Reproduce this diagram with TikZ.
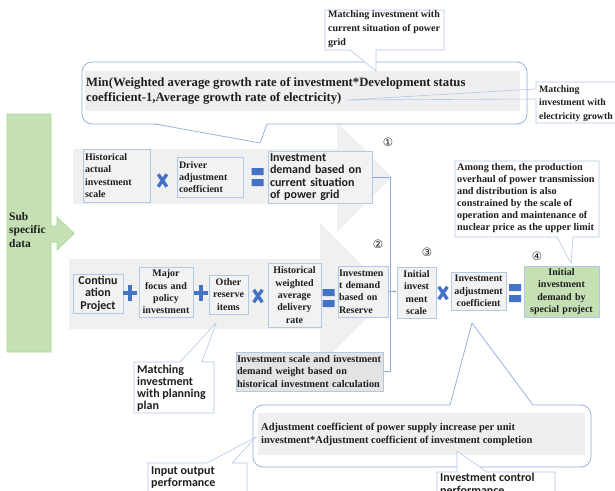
\documentclass[tikz,border=0pt]{standalone}
\usepackage{fontspec}
\setmainfont{Liberation Serif}
\newfontfamily\calfont{Carlito}
\newfontfamily\dvfont{DejaVu Sans}
\usetikzlibrary{arrows.meta}
\hyphenpenalty=10000
\exhyphenpenalty=10000
\definecolor{bgray}{HTML}{F2F2F2}
\definecolor{dgray}{HTML}{E3E3E3}
\definecolor{igray}{HTML}{EFEFEF}
\definecolor{bline}{HTML}{B4C7E7}
\definecolor{cline}{HTML}{8FAADC}
\definecolor{symblue}{HTML}{4472C4}
\definecolor{gfill}{HTML}{C5E0B4}
\definecolor{gline}{HTML}{A9D89A}
\definecolor{txt}{HTML}{1E1E1E}
\definecolor{agray}{HTML}{F0F0F0}
\begin{document}
\begin{tikzpicture}[x=1pt,y=-1pt,
  bx/.style={draw=bline, fill=bgray, line width=0.6pt, inner xsep=2pt, inner ysep=0pt, text=txt},
  sfont/.style={font=\bfseries\fontsize{10}{12.3}\selectfont},
  cfont/.style={font=\calfont\bfseries\fontsize{12}{12.3}\selectfont},
  callout/.style={draw=bline, fill=white, line width=0.6pt},
  rcall/.style={draw=cline, fill=white, line width=0.7pt},
  conn/.style={draw=cline, line width=0.6pt},
  num/.style={font=\dvfont\fontsize{11.5}{11.5}\selectfont, text=txt, inner sep=0pt},
  timessym/.pic={\draw[symblue, line width=3.4pt] (-4.3,-6.2) -- (4.3,6.2) (4.3,-6.2) -- (-4.3,6.2);},
  plussym/.pic={\draw[symblue, line width=3.8pt] (-7,0) -- (7,0) (0,-8) -- (0,8);},
  eqsym/.pic={\fill[symblue] (-6,-9) rectangle (6,-2) (-6,2) rectangle (6,9);}
]
\useasboundingbox (0,0) rectangle (615,490);
\clip (0,0) rectangle (615,490);
\fill[white] (0,0) rectangle (615,490);

% big gray arrows
\fill[agray] (73,149) -- (337,149) -- (337,122) -- (392,177) -- (337,232) -- (337,204) -- (73,204) -- cycle;
\fill[agray] (69,259) -- (320,259) -- (320,223) -- (391,294) -- (320,365) -- (320,329) -- (69,329) -- cycle;

% green input arrow
\draw[draw=gline, fill=gfill, line width=0.8pt] (7,114) -- (51,114) -- (51,226) -- (57,226) -- (57,217) -- (74,233.5) -- (57,250) -- (57,242) -- (51,242) -- (51,352) -- (7,352) -- cycle;
\node[font=\bfseries\fontsize{11.5}{13.5}\selectfont, text=txt, anchor=west, align=left, inner sep=0pt] (sub) at (9,230) {Sub\\specific\\data};

% rounded callout 1
\draw[rcall, rounded corners=10pt] (82,62) rectangle (527,124);
\fill[white] (155,123.2) -- (260,143) -- (267,123.2) -- cycle;
\draw[conn, line width=0.7pt] (155,124) -- (260,143) -- (267,124);
\fill[igray] (85,71) rectangle (520,111);
\node[font=\bfseries\fontsize{12.7}{15}\selectfont, text=txt, anchor=west, align=left, inner sep=0pt] (minf) at (86,90.5) {Min(Weighted average growth rate of investment*Development status\\coefficient-1,Average growth rate of electricity)};

% top callout
\draw[callout] (325,10) -- (444,10) -- (444,50) -- (376,50) -- (376,71) -- (350,50) -- (325,50) -- cycle;
\node[font=\bfseries\fontsize{10}{14}\selectfont, text=txt, anchor=west, align=left, inner sep=0pt] (matchgrid) at (328,29) {Matching investment with\\current situation of power\\grid};

% electricity callout
\fill[white] (536,82) rectangle (620,123);
\draw[callout, fill=none] (620,82) -- (536,82) -- (536,89) -- (347,100) -- (536,99) -- (536,123) -- (620,123);
\node[font=\bfseries\fontsize{9.8}{13.5}\selectfont, text=txt, anchor=west, align=left, inner sep=0pt] (matchel) at (539,103.5) {Matching\\investment with\\electricity growth};

% row 1
\node[bx, sfont, minimum width=67pt, minimum height=53pt, text width=63pt, align=left] (hist) at (116.5,175.5) {Historical\\actual\\investment\\scale};
\pic at (162.5,180.5) {timessym};
\node[bx, sfont, minimum width=66pt, minimum height=40pt, text width=62pt, align=left] (driver) at (210,177) {Driver\\adjustment\\coefficient};
\pic at (257.5,177) {eqsym};
\node[bx, cfont, minimum width=104pt, minimum height=52pt, text width=100pt, align=left] (cur) at (320,177) {Investment\\demand based on\\current situation\\of power grid};
\node[num] (n1) at (388,142) {①};

% row 2
\node[bx, cfont, minimum width=50pt, minimum height=39pt, text width=48pt, inner xsep=1pt, align=center] (cont) at (98,293.5) {Continu\\ation\\Project};
\pic at (130,293) {plussym};
\node[bx, sfont, minimum width=54pt, minimum height=50pt, text width=52pt, inner xsep=1pt, align=center] (major) at (166,292) {Major\\focus and\\policy\\investment};
\pic at (201,293) {plussym};
\node[bx, sfont, minimum width=39pt, minimum height=39pt, text width=37pt, inner xsep=1pt, align=center] (other) at (228.5,294.5) {Other\\reserve\\items};
\pic at (258,296) {timessym};
\node[bx, sfont, minimum width=53pt, minimum height=64pt, text width=51pt, inner xsep=1pt, align=center] (hwadr) at (294.5,295) {Historical\\weighted\\average\\delivery\\rate};
\pic at (328.5,298) {eqsym};
\node[bx, sfont, minimum width=50pt, minimum height=51pt, text width=48pt, inner xsep=1pt, align=left] (reserve) at (363,291.5) {Investmen\\t demand\\based on\\Reserve};
\node[num] (n2) at (378,244) {②};

\node[bx, fill=dgray, font=\bfseries\fontsize{10.2}{12.3}\selectfont, minimum width=147pt, minimum height=39pt, text width=145pt, inner xsep=1pt, align=left] (histcalc) at (309.5,371.5) {\mbox{Investment scale and investment}\\\mbox{demand weight based on}\\\mbox{historical investment calculation}};

% planning callout
\draw[callout] (134,362) -- (180,362) -- (216,323) -- (202,362) -- (214,362) -- (214,413) -- (134,413) -- cycle;
\node[font=\calfont\bfseries\fontsize{12}{12}\selectfont, text=txt, anchor=west, align=left, inner sep=0pt] (plan) at (137,388) {Matching\\investment\\with planning\\plan};

% right part
\node[bx, sfont, minimum width=39pt, minimum height=51pt, text width=37pt, inner xsep=1pt, align=center] (initial) at (416.5,292.5) {Initial\\invest\\ment\\scale};
\node[num] (n3) at (427,252) {③};
\pic at (443,293) {timessym};
\node[bx, sfont, minimum width=55pt, minimum height=38pt, text width=53pt, inner xsep=1pt, align=center] (adjc) at (478.5,291) {Investment\\adjustment\\coefficient};
\pic at (515,293) {eqsym};
\node[bx, sfont, fill=gfill, minimum width=75pt, minimum height=51pt, text width=71pt, align=center] (final) at (561.5,291.5) {Initial\\investment\\demand by\\special project};
\node[num] (n4) at (537,256) {④};

% among callout
\draw[callout] (455,161) -- (599,161) -- (599,237) -- (573,237) -- (571,263) -- (557,237) -- (455,237) -- cycle;
\node[font=\bfseries\fontsize{10.2}{12}\selectfont, text=txt, anchor=west, align=left, inner sep=0pt] (among) at (457,198) {Among them, the production\\overhaul of power transmission\\and distribution is also\\constrained by the scale of\\operation and maintenance of\\nuclear price as the upper limit};

% connectors
\draw[conn] (cur.east) -- ++(18,0) coordinate (j1) |- (histcalc.east);
\draw[conn, -{Stealth[length=3pt,width=3pt]}] (reserve.east) -- (reserve.east -| initial.west);

% rounded callout 2
\draw[rcall, rounded corners=10pt] (253,405) rectangle (591,467);
\fill[white] (450,405.8) -- (472,323) -- (533,405.8) -- cycle;
\draw[conn, line width=0.7pt] (450,405) -- (472,323) -- (533,405);
\fill[igray] (258,413) rectangle (585,455);
\node[font=\bfseries\fontsize{10.5}{13}\selectfont, text=txt, anchor=west, align=left, inner sep=0pt] (adjtext) at (261,434.5) {Adjustment coefficient of power supply increase per unit\\investment*Adjustment coefficient of investment completion};

% input output callout
\draw[callout] (148,463) -- (207,463) -- (256,437) -- (232,463) -- (247,463) -- (247,500) -- (148,500) -- cycle;
\node[font=\calfont\bfseries\fontsize{12}{11.8}\selectfont, text=txt, anchor=west, align=left, inner sep=0pt] (inout) at (151,477.5) {Input output\\performance};

% investment control callout
\draw[callout] (437,472) -- (457,472) -- (457,451) -- (487,472) -- (555,472) -- (555,500) -- (437,500) -- cycle;
\node[font=\calfont\bfseries\fontsize{12}{13}\selectfont, text=txt, anchor=west, align=left, inner sep=0pt] (invctrl) at (440,484.5) {Investment control\\performance};
\end{tikzpicture}
\end{document}
